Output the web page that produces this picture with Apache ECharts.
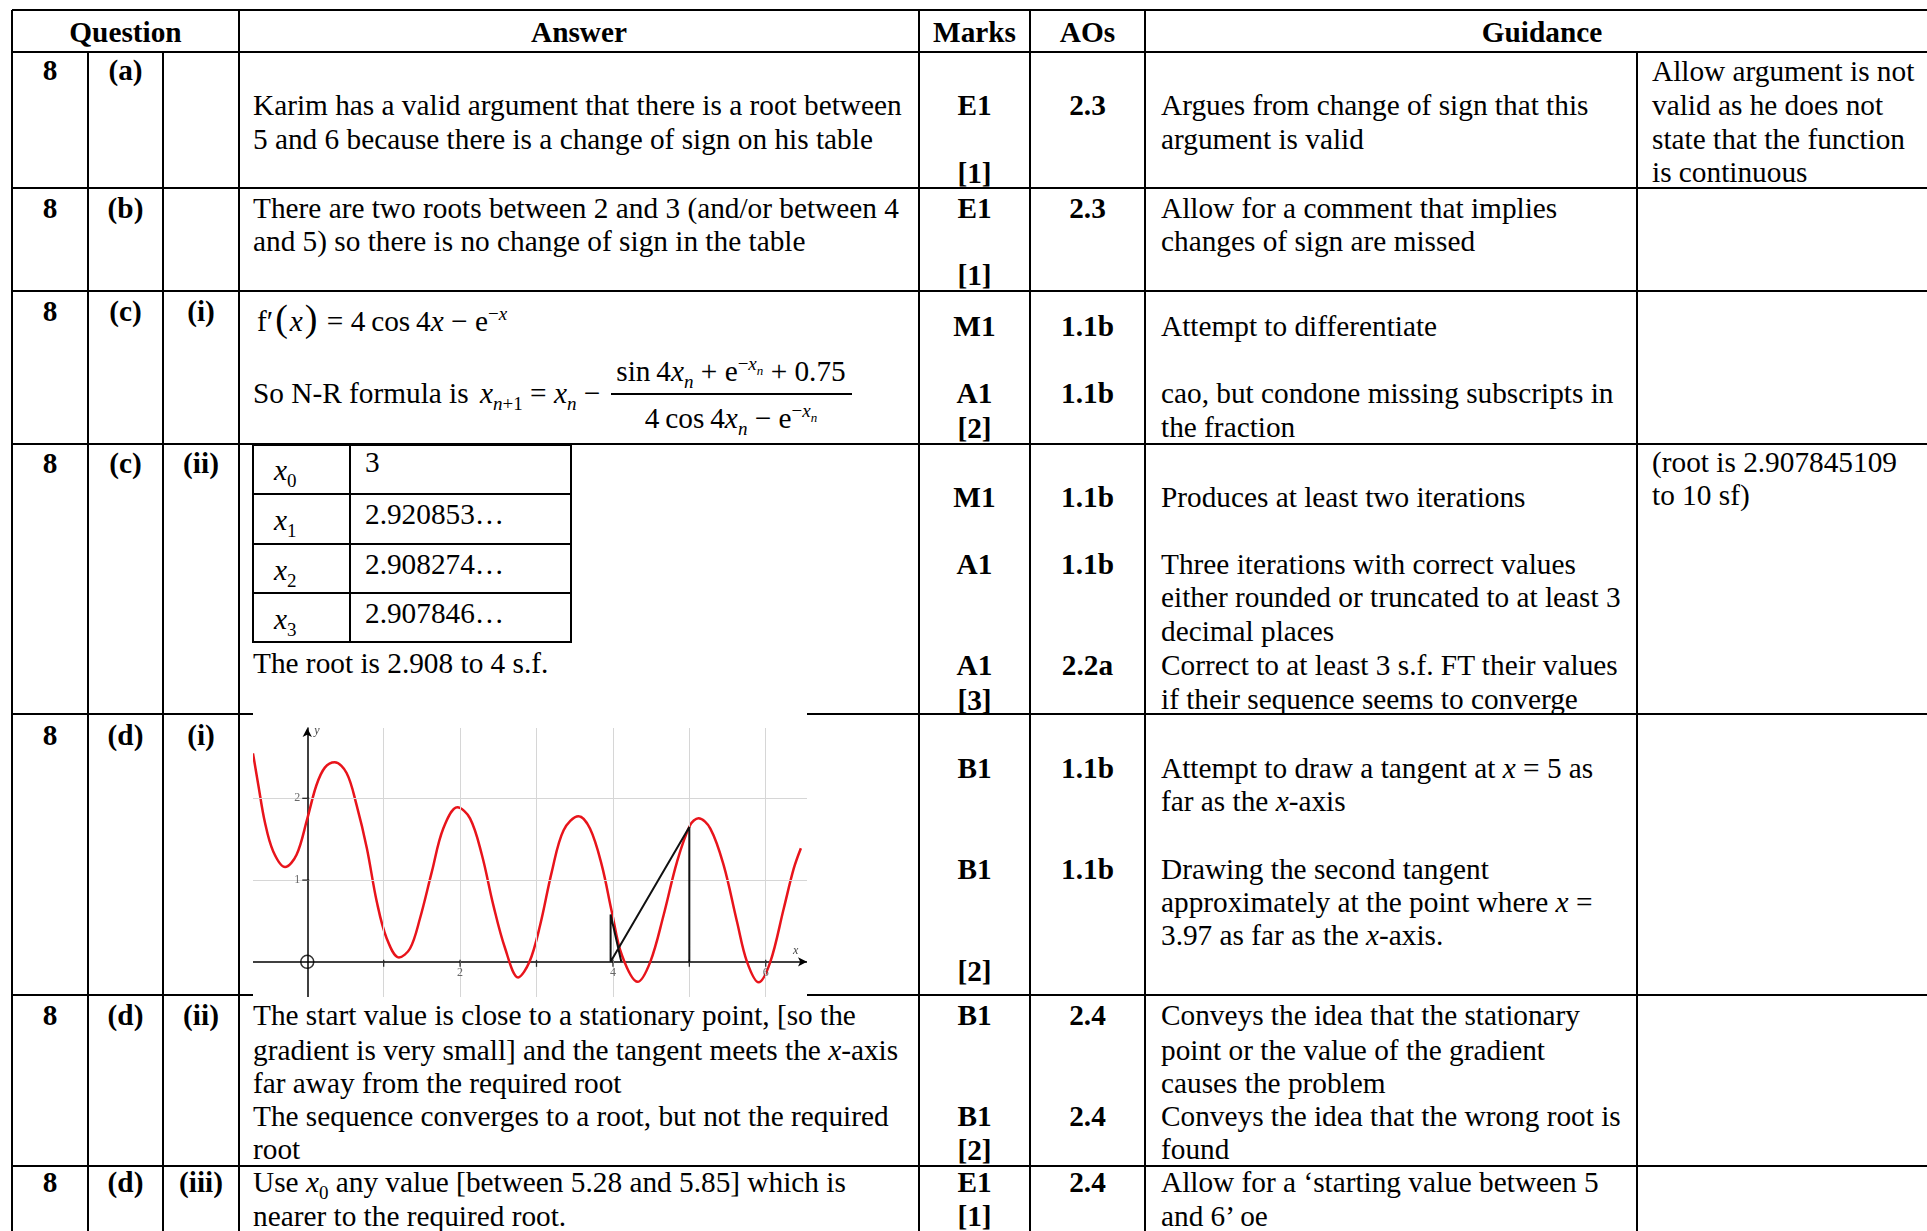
<!DOCTYPE html>
<html>
<head>
<meta charset="utf-8">
<title>Mark scheme 8</title>
<script src="https://cdn.jsdelivr.net/npm/echarts@6/dist/echarts.min.js"></script>
<style>
body {
    margin: 0;
    width: 1927px;
    height: 1231px;
    overflow: hidden;
    position: relative;
    background: #fff;
    color: #000;
    font-family: "Liberation Serif", "Times New Roman", serif;
    font-size: 29.3px;
}
.ln { position: absolute; background: #000; }
.t { position: absolute; white-space: nowrap; line-height: 34px; height: 34px; }
.c { transform: translateX(-50%); }
.b { font-weight: bold; }
sub, sup { font-size: 19px; line-height: 0; }
#graph {
    position: absolute;
    left: 253px;
    top: 713px;
    width: 554px;
    height: 284px;
    background: #fff;
    z-index: 2;
}
</style>
</head>
<body>
<div id="graph"></div>
<script>
// curve f(x) (x, y)
const curveX = [-0.71, -0.64, -0.555, -0.445, -0.29, -0.14, 0, 0.12, 0.23, 0.36, 0.515, 0.645, 0.78, 0.91, 1.04, 1.2,
    1.345, 1.475, 1.63, 1.78, 1.965, 2.13, 2.285, 2.435, 2.59, 2.76, 2.908, 3.048, 3.2, 3.355, 3.55, 3.7, 3.855, 3.986,
    4.118, 4.323, 4.489, 4.663, 4.838, 5.01, 5.12, 5.275, 5.45, 5.624, 5.755, 5.907, 6.06, 6.235, 6.366, 6.46];
const curveY = [2.55, 2.16, 1.71, 1.35, 1.16, 1.31, 1.75, 2.16, 2.375, 2.44, 2.31, 1.92, 1.39, 0.735, 0.286, 0.053,
    0.163, 0.53, 1.1, 1.63, 1.89, 1.755, 1.31, 0.694, 0.163, -0.19, 0, 0.45, 1.1, 1.61, 1.78, 1.63, 1.18, 0.61,
    0.08, -0.245, 0, 0.57, 1.22, 1.67, 1.755, 1.63, 1.18, 0.49, 0, -0.25, 0, 0.65, 1.14, 1.39];
// tangent construction (black)
const tangentX = [5, 5, 3.97, 3.97, 4.11];
const tangentY = [0, 1.65, 0, 0.58, 0];
// axes
const gridX = [1, 2, 3, 4, 5, 6];
const gridY = [1, 2];
const tickX = [1, 2, 3, 4, 5, 6];
const labelX = [2, 4, 6];
const tickY = [1, 2];
const labelY = [1, 2];
const origin = [0, 0];

// ---- table ----
const hLines = [10, 52, 188, 291, 444, 714, 995, 1166];
const vLines = [[12, 10, 1231], [88, 52, 1231], [163, 52, 1231], [239, 10, 1231], [919, 10, 1231],
    [1030, 10, 1231], [1145, 10, 1231], [1637, 52, 1231]];
const boxH = [445, 494, 544, 593, 642];
const boxV = [253, 350, 571];

function line(x, y, w, h) {
    let d = document.createElement('div');
    d.className = 'ln';
    d.style.cssText = `left:${x}px;top:${y}px;width:${w}px;height:${h}px`;
    document.body.appendChild(d);
}
hLines.forEach(y => line(12, y - 1, 1915, 2));
vLines.forEach(v => line(v[0] - 1, v[1], 2, v[2] - v[1]));
boxH.forEach(y => line(boxV[0] - 1, y - 1, boxV[2] - boxV[0] + 2, 2));
boxV.forEach(x => line(x - 1, boxH[0], 2, boxH[4] - boxH[0]));

function txt(x, y, html, cls) {
    let d = document.createElement('div');
    d.className = 't ' + (cls || '');
    d.style.left = x + 'px';
    d.style.top = (y - 17) + 'px';
    d.innerHTML = html;
    document.body.appendChild(d);
}
const Q1 = 50, Q2 = 125.5, Q3 = 201, AN = 253, MK = 974.5, AO = 1087.5, GD = 1161, GR = 1652;
const xi = '<i>x</i>';
const xn = '<i>x</i><sub><i>n</i></sub>';
const exn = 'e<sup>&minus;<i>x</i><sub style="font-size:13px"><i>n</i></sub></sup>';

// header
txt(125.5, 32, 'Question', 'c b');
txt(579, 32, 'Answer', 'c b');
txt(MK, 32, 'Marks', 'c b');
txt(AO, 32, 'AOs', 'c b');
txt(1542, 32, 'Guidance', 'c b');

// 8 (a)
txt(Q1, 70, '8', 'c b'); txt(Q2, 70, '(a)', 'c b');
txt(AN, 104.5, 'Karim has a valid argument that there is a root between');
txt(AN, 139, '5 and 6 because there is a change of sign on his table');
txt(MK, 104.5, 'E1', 'c b'); txt(MK, 173, '[1]', 'c b');
txt(AO, 104.5, '2.3', 'c b');
txt(GD, 104.5, 'Argues from change of sign that this');
txt(GD, 139, 'argument is valid');
txt(GR, 71, 'Allow argument is not');
txt(GR, 104.5, 'valid as he does not');
txt(GR, 139, 'state that the function');
txt(GR, 172, 'is continuous');

// 8 (b)
txt(Q1, 208, '8', 'c b'); txt(Q2, 208, '(b)', 'c b');
txt(AN, 208, 'There are two roots between 2 and 3 (and/or between 4');
txt(AN, 241, 'and 5) so there is no change of sign in the table');
txt(MK, 208, 'E1', 'c b'); txt(MK, 275, '[1]', 'c b');
txt(AO, 208, '2.3', 'c b');
txt(GD, 208, 'Allow for a comment that implies');
txt(GD, 241, 'changes of sign are missed');

// 8 (c)(i)
txt(Q1, 311, '8', 'c b'); txt(Q2, 311, '(c)', 'c b'); txt(Q3, 311, '(i)', 'c b');
txt(257, 318, 'f&#8242;<span style="font-size:38px;margin:0 2px">(</span>' + xi + '<span style="font-size:38px;margin:0 2px">)</span>&nbsp;=&nbsp;4&#8201;cos&#8201;4' + xi + '&nbsp;&minus;&nbsp;e<sup>&minus;' + xi + '</sup>', '');
txt(AN, 393, 'So N-R formula is');
txt(480, 393, xi + '<sub><i>n</i>+1</sub> = ' + xn + ' &minus;');
txt(731, 371, 'sin&#8201;4' + xn + ' + ' + exn + ' + 0.75', 'c');
line(611, 393, 241, 1.5);
txt(731, 418, '4&#8201;cos&#8201;4' + xn + ' &minus; ' + exn, 'c');
txt(MK, 326, 'M1', 'c b'); txt(MK, 393, 'A1', 'c b'); txt(MK, 428, '[2]', 'c b');
txt(AO, 326, '1.1b', 'c b'); txt(AO, 393, '1.1b', 'c b');
txt(GD, 326, 'Attempt to differentiate');
txt(GD, 393, 'cao, but condone missing subscripts in');
txt(GD, 426.5, 'the fraction');

// 8 (c)(ii)
txt(Q1, 463, '8', 'c b'); txt(Q2, 463, '(c)', 'c b'); txt(Q3, 463, '(ii)', 'c b');
txt(274, 470, xi + '<sub>0</sub>'); txt(365, 462, '3');
txt(274, 520, xi + '<sub>1</sub>'); txt(365, 514, '2.920853&hellip;');
txt(274, 570, xi + '<sub>2</sub>'); txt(365, 564, '2.908274&hellip;');
txt(274, 619, xi + '<sub>3</sub>'); txt(365, 613, '2.907846&hellip;');
txt(AN, 663, 'The root is 2.908 to 4 s.f.');
txt(MK, 496.5, 'M1', 'c b'); txt(MK, 564, 'A1', 'c b'); txt(MK, 665, 'A1', 'c b'); txt(MK, 700, '[3]', 'c b');
txt(AO, 496.5, '1.1b', 'c b'); txt(AO, 564, '1.1b', 'c b'); txt(AO, 665, '2.2a', 'c b');
txt(GD, 496.5, 'Produces at least two iterations');
txt(GD, 564, 'Three iterations with correct values');
txt(GD, 597, 'either rounded or truncated to at least 3');
txt(GD, 630.5, 'decimal places');
txt(GD, 665, 'Correct to at least 3 s.f. FT their values');
txt(GD, 699, 'if their sequence seems to converge');
txt(GR, 462, '(root is 2.907845109');
txt(GR, 495, 'to 10 sf)');

// 8 (d)(i)
txt(Q1, 735, '8', 'c b'); txt(Q2, 735, '(d)', 'c b'); txt(Q3, 735, '(i)', 'c b');
txt(MK, 768, 'B1', 'c b'); txt(MK, 869, 'B1', 'c b'); txt(MK, 971, '[2]', 'c b');
txt(AO, 768, '1.1b', 'c b'); txt(AO, 869, '1.1b', 'c b');
txt(GD, 768, 'Attempt to draw a tangent at ' + xi + ' = 5 as');
txt(GD, 801, 'far as the ' + xi + '-axis');
txt(GD, 869, 'Drawing the second tangent');
txt(GD, 902, 'approximately at the point where ' + xi + ' =');
txt(GD, 935, '3.97 as far as the ' + xi + '-axis.');

// 8 (d)(ii)
txt(Q1, 1015, '8', 'c b'); txt(Q2, 1015, '(d)', 'c b'); txt(Q3, 1015, '(ii)', 'c b');
txt(AN, 1015, 'The start value is close to a stationary point, [so the');
txt(AN, 1049.5, 'gradient is very small] and the tangent meets the ' + xi + '-axis');
txt(AN, 1083, 'far away from the required root');
txt(AN, 1116, 'The sequence converges to a root, but not the required');
txt(AN, 1149, 'root');
txt(MK, 1015, 'B1', 'c b'); txt(MK, 1116, 'B1', 'c b'); txt(MK, 1150, '[2]', 'c b');
txt(AO, 1015, '2.4', 'c b'); txt(AO, 1116, '2.4', 'c b');
txt(GD, 1015, 'Conveys the idea that the stationary');
txt(GD, 1049.5, 'point or the value of the gradient');
txt(GD, 1083, 'causes the problem');
txt(GD, 1116, 'Conveys the idea that the wrong root is');
txt(GD, 1149, 'found');

// 8 (d)(iii)
txt(Q1, 1182, '8', 'c b'); txt(Q2, 1182, '(d)', 'c b'); txt(Q3, 1182, '(iii)', 'c b');
txt(AN, 1182, 'Use ' + xi + '<sub>0</sub> any value [between 5.28 and 5.85] which is');
txt(AN, 1216, 'nearer to the required root.');
txt(MK, 1182, 'E1', 'c b'); txt(MK, 1216, '[1]', 'c b');
txt(AO, 1182, '2.4', 'c b');
txt(GD, 1182, 'Allow for a &lsquo;starting value between 5');
txt(GD, 1216, 'and 6&rsquo; oe');

// ---- graph ----
const zip = (a, b) => a.map((v, i) => [v, b[i]]);
const small = { fontSize: 12, color: '#444', fontFamily: 'Liberation Serif' };
const graph = echarts.init(document.getElementById('graph'));
graph.setOption({
    animation: false,
    backgroundColor: '#fff',
    grid: { left: 0, right: 0, top: 15, bottom: 0, containLabel: false, outerBoundsMode: 'none' },
    xAxis: {
        type: 'value', min: -0.71, max: 6.54, z: 3,
        name: 'x', nameLocation: 'end', nameGap: -14,
        nameTextStyle: Object.assign({}, small, { fontStyle: 'italic', verticalAlign: 'bottom', padding: [0, 0, 5, 0] }),
        axisLine: { onZero: true, symbol: ['none', 'arrow'], symbolSize: [7, 9], lineStyle: { color: '#000', width: 1.5 } },
        axisTick: { show: false },
        axisLabel: { show: false },
        splitLine: { show: false }
    },
    yAxis: {
        type: 'value', min: -0.43, max: 2.86, z: 3,
        name: 'y', nameLocation: 'end', nameGap: -9,
        nameTextStyle: Object.assign({}, small, { fontStyle: 'italic', align: 'left', verticalAlign: 'bottom', padding: [0, 0, 0, 7] }),
        axisLine: { onZero: true, symbol: ['none', 'arrow'], symbolSize: [7, 9], lineStyle: { color: '#000', width: 1.5 } },
        axisTick: { show: false },
        axisLabel: { show: false },
        splitLine: { show: false }
    },
    series: [
        {
            // light grid
            type: 'line', data: [], z: 0, silent: true,
            markLine: {
                silent: true, symbol: ['none', 'none'], label: { show: false },
                lineStyle: { color: '#d6d6d6', width: 1, type: 'solid' },
                data: gridX.map(v => ({ xAxis: v })).concat(gridY.map(v => ({ yAxis: v })))
            }
        },
        {
            type: 'line', data: zip(curveX, curveY), smooth: 0.35, showSymbol: false, silent: true, z: 4,
            lineStyle: { color: '#e8141b', width: 2.5 }
        },
        {
            type: 'line', data: zip(tangentX, tangentY), showSymbol: false, silent: true, z: 5,
            lineStyle: { color: '#111', width: 2 }
        },
        {
            type: 'scatter', data: [origin], symbol: 'circle', symbolSize: 13, silent: true, z: 6,
            itemStyle: { color: 'rgba(0,0,0,0)', borderColor: '#000', borderWidth: 1.5 }
        },
        {
            // x ticks
            type: 'scatter', data: tickX.map(v => [v, 0]), symbol: 'rect', symbolSize: [1.3, 7],
            symbolOffset: [0, 1.5], silent: true, z: 6, itemStyle: { color: '#000' }
        },
        {
            // y ticks
            type: 'scatter', data: tickY.map(v => [0, v]), symbol: 'rect', symbolSize: [7, 1.3],
            symbolOffset: [-1.5, 0], silent: true, z: 6, itemStyle: { color: '#000' }
        },
        {
            // x tick labels
            type: 'scatter', data: labelX.map(v => [v, 0]), symbolSize: 0, silent: true, z: 6,
            label: Object.assign({ show: true, position: 'bottom', distance: 5, formatter: p => p.value[0] }, small)
        },
        {
            // y tick labels
            type: 'scatter', data: labelY.map(v => [0, v]), symbolSize: 0, silent: true, z: 6,
            label: Object.assign({ show: true, position: 'left', distance: 7, formatter: p => p.value[1] }, small)
        }
    ]
});
</script>
</body>
</html>
